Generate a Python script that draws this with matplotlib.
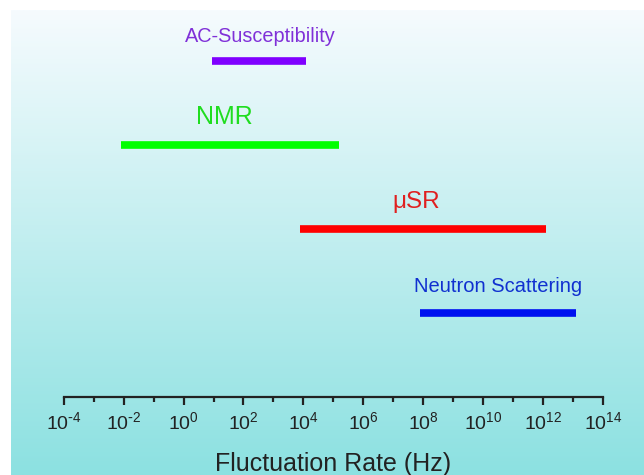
import numpy as np
import matplotlib
matplotlib.use('Agg')
import matplotlib.pyplot as plt
from matplotlib.ticker import FixedLocator, FuncFormatter

plt.rcParams['font.family'] = ['Liberation Sans', 'DejaVu Sans']

# data
methods = ['AC-Susceptibility', 'NMR', '\u03bcSR', 'Neutron Scattering']
f_low = [10**0.95, 10**-2.1, 10**3.9, 10**7.9]
f_high = [10**4.1, 10**5.2, 10**12.1, 10**13.1]
rows = [4, 3, 2, 1]
label_x = [10**2.55, 10**1.35, 10**7.75, 10**10.5]
major_exp = list(range(-4, 15, 2))
minor_exp = list(range(-3, 14, 2))

bar_colors = ['#7f00ff', '#00ff00', '#ff0000', '#0010f0']
text_colors = ['#8030d8', '#20dd20', '#e02020', '#1030d0']
text_sizes = [14.3, 18, 17.5, 14.5]
text_dy = [0.29, 0.33, 0.32, 0.32]

W, H = 644, 475
fig = plt.figure(figsize=(W / 100, H / 100), dpi=100)
fig.patch.set_facecolor('white')

# background gradient, white at top -> teal at bottom
bg = fig.add_axes([11 / W, 0, 1 - 11 / W, 1 - 10 / H], zorder=0)
top = np.array([246, 251, 254]) / 255
bottom = np.array([140, 225, 225]) / 255
t = np.linspace(0, 1, 256)[:, None, None]
grad = top * (1 - t) + bottom * t
grad = np.repeat(grad, 2, axis=1)
bg.imshow(grad, aspect='auto', extent=[0, 1, 0, 1], interpolation='bilinear')
bg.axis('off')

ax = fig.add_axes([63.7 / W, 1 - 397 / H, (603 - 63.7) / W, 397 / H], zorder=1)
ax.patch.set_alpha(0)
ax.set_xscale('log')
ax.set_xlim(1e-4, 1e14)
ax.set_ylim(0, 397 / 84)

ax.hlines(rows, f_low, f_high, colors=bar_colors, linewidth=5.5, capstyle='butt')
for name, x, y, c, s, dy in zip(methods, label_x, rows, text_colors, text_sizes, text_dy):
    ax.text(x, y + dy, name, color=c, fontsize=s, ha='center', va='center')

for side in ['left', 'right', 'top']:
    ax.spines[side].set_visible(False)
ax.spines['bottom'].set_linewidth(1.6)
ax.spines['bottom'].set_color('#222222')
ax.yaxis.set_visible(False)


def exp_label(v, pos):
    e = int(round(np.log10(v)))
    s = str(e).replace('-', r'\text{-}')
    return r'$\mathregular{10^{%s}}$' % s


ax.xaxis.set_major_locator(FixedLocator([10.0**e for e in major_exp]))
ax.xaxis.set_minor_locator(FixedLocator([10.0**e for e in minor_exp]))
ax.xaxis.set_major_formatter(FuncFormatter(exp_label))
ax.xaxis.set_minor_formatter(FuncFormatter(lambda v, p: ''))
ax.tick_params(axis='x', which='major', direction='out', length=6, width=1.6,
               color='#222222', labelsize=14, pad=4, labelcolor='#222222')
ax.tick_params(axis='x', which='minor', direction='out', length=3.5, width=1.6,
               color='#222222')
ax.set_xlabel('Fluctuation Rate (Hz)', fontsize=18, color='#222222', labelpad=14)

fig.savefig('out.png', dpi=100)
